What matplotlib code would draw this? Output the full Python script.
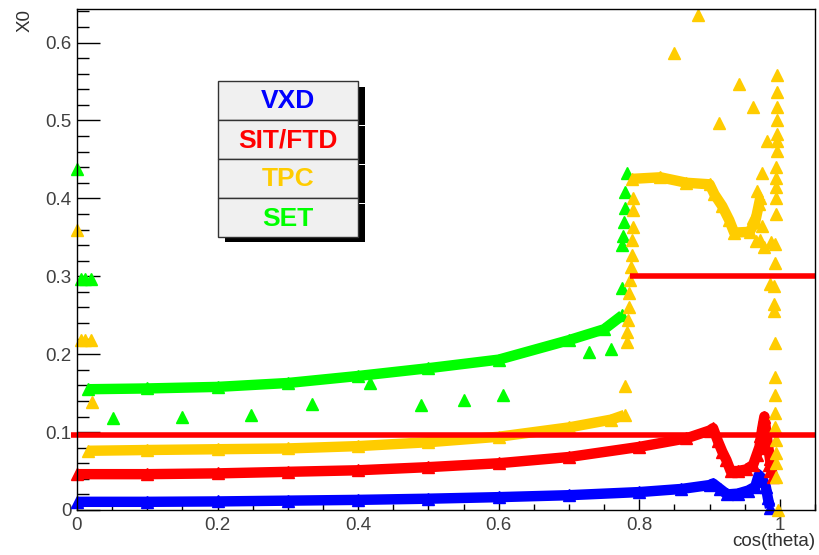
import matplotlib
matplotlib.use('Agg')
import matplotlib.pyplot as plt
from matplotlib.patches import Rectangle

plt.rcParams['font.family'] = ['Liberation Sans', 'DejaVu Sans']

# legend entries
names = ['VXD', 'SIT/FTD', 'TPC', 'SET']
colors = ['#0000ff', '#ff0000', '#ffcc00', '#00ff00']

# VXD band
vxd_x = [0.0, 0.1, 0.2, 0.3, 0.4, 0.5, 0.6, 0.7, 0.8, 0.86, 0.9, 0.905, 0.915,
         0.925, 0.94, 0.955, 0.965, 0.97, 0.975, 0.98, 0.983, 0.986]
vxd_y = [0.0105, 0.0105, 0.011, 0.012, 0.013, 0.0145, 0.0165, 0.019, 0.023, 0.027,
         0.032, 0.034, 0.027, 0.02, 0.021, 0.025, 0.03, 0.045, 0.04, 0.03, 0.015, 0.003]

# SIT/FTD band
sit_x = [0.0, 0.1, 0.2, 0.3, 0.4, 0.5, 0.6, 0.7, 0.8, 0.867, 0.9, 0.905, 0.912,
         0.918, 0.924, 0.93, 0.94, 0.952, 0.962, 0.971, 0.975, 0.978, 0.982, 0.986, 0.99]
sit_y = [0.046, 0.046, 0.047, 0.049, 0.051, 0.055, 0.06, 0.068, 0.081, 0.092, 0.102,
         0.105, 0.088, 0.075, 0.064, 0.05, 0.05, 0.052, 0.058, 0.081, 0.105, 0.12,
         0.09, 0.065, 0.042]
# extra SIT/FTD hits in the forward spike
sit_px = [0.968, 0.972, 0.976, 0.979, 0.981, 0.984, 0.986]
sit_py = [0.07, 0.095, 0.112, 0.1, 0.08, 0.058, 0.05]

# TPC bands
tpc_x = [0.016, 0.1, 0.2, 0.3, 0.4, 0.5, 0.6, 0.7, 0.76, 0.779]
tpc_y = [0.076, 0.077, 0.078, 0.079, 0.082, 0.087, 0.094, 0.106, 0.116, 0.122]
tpc_top_x = [0.79, 0.83, 0.867, 0.9, 0.907, 0.918, 0.928, 0.935, 0.957, 0.965, 0.972]
tpc_top_y = [0.425, 0.427, 0.42, 0.418, 0.405, 0.39, 0.372, 0.356, 0.357, 0.37, 0.40]

# TPC single points
tpc_px = [0.0, 0.005, 0.012, 0.02, 0.021,
          0.78, 0.782, 0.783, 0.784, 0.785, 0.786, 0.787, 0.788, 0.789, 0.79, 0.791, 0.791, 0.791,
          0.883, 0.85, 0.942, 0.962, 0.913, 0.981, 0.975, 0.97, 0.972, 0.978, 0.988,
          0.962, 0.968, 0.966, 0.974,
          0.996, 0.996, 0.996, 0.996, 0.996, 0.996, 0.996, 0.995, 0.995, 0.995, 0.995, 0.994,
          0.993, 0.993, 0.992, 0.986, 0.992, 0.992, 0.993, 0.993, 0.993, 0.993, 0.993, 0.994,
          0.994, 0.994, 0.994, 0.998]
tpc_py = [0.36, 0.218, 0.218, 0.218, 0.139,
          0.159, 0.215, 0.228, 0.244, 0.26, 0.278, 0.295, 0.312, 0.327, 0.346, 0.363, 0.385, 0.40,
          0.635, 0.586, 0.547, 0.517, 0.497, 0.474, 0.432, 0.393, 0.346, 0.337, 0.344,
          0.375, 0.41, 0.345, 0.365,
          0.558, 0.536, 0.517, 0.50, 0.483, 0.474, 0.461, 0.44, 0.426, 0.414, 0.40, 0.38,
          0.342, 0.317, 0.288, 0.29, 0.265, 0.256, 0.214, 0.171, 0.147, 0.124, 0.106, 0.09,
          0.073, 0.06, 0.042, 0.0]

# SET band
set_x = [0.016, 0.1, 0.2, 0.3, 0.4, 0.5, 0.6, 0.7, 0.75, 0.776]
set_y = [0.155, 0.156, 0.158, 0.163, 0.172, 0.182, 0.193, 0.218, 0.232, 0.25]

# SET single points
set_px = [0.0, 0.005, 0.012, 0.02, 0.051, 0.149, 0.247, 0.335, 0.417, 0.489, 0.55,
          0.606, 0.729, 0.76, 0.775, 0.776, 0.777, 0.778, 0.779, 0.78, 0.782]
set_py = [0.438, 0.297, 0.297, 0.297, 0.118, 0.119, 0.122, 0.136, 0.163, 0.135, 0.141,
          0.148, 0.203, 0.207, 0.285, 0.34, 0.352, 0.369, 0.387, 0.408, 0.432]

# red cut lines: (level, start)
cut_y = [0.096, 0.30]
cut_x0 = [-0.008, 0.787]

W, H = 819, 555
fig = plt.figure(figsize=(W / 100, H / 100), dpi=100)
ax = fig.add_axes([77 / W, 1 - 510 / H, (815 - 77) / W, (510 - 9) / H])
xmax = 1.05
ymax = 0.643
ax.set_xlim(0, xmax)
ax.set_ylim(0, ymax)

band = dict(lw=7.5, marker='^', ms=8.5, solid_capstyle='butt', solid_joinstyle='round', clip_on=False)
pts = dict(ls='none', marker='^', ms=8.5, clip_on=False)

ax.plot(vxd_x, vxd_y, color=colors[0], **band)
ax.plot(sit_x, sit_y, color=colors[1], **band)
ax.plot(sit_px, sit_py, color=colors[1], **pts)
ax.plot(set_x, set_y, color=colors[3], **band)
ax.plot(set_px, set_py, color=colors[3], **pts)
ax.plot(tpc_x, tpc_y, color=colors[2], **band)
ax.plot(tpc_top_x, tpc_top_y, color=colors[2], **band)
ax.plot(tpc_px, tpc_py, color=colors[2], **pts)

for yv, x0 in zip(cut_y, cut_x0):
    ax.plot([x0, xmax], [yv, yv], color='#ff0000', lw=4, solid_capstyle='butt', clip_on=False)

ax.set_xticks([0, 0.2, 0.4, 0.6, 0.8, 1.0])
ax.set_xticklabels(['0', '0.2', '0.4', '0.6', '0.8', '1'])
ax.set_xticks([i * 0.05 for i in range(22)], minor=True)
ax.set_yticks([0, 0.1, 0.2, 0.3, 0.4, 0.5, 0.6])
ax.set_yticklabels(['0', '0.1', '0.2', '0.3', '0.4', '0.5', '0.6'])
ax.set_yticks([i * 0.02 for i in range(33)], minor=True)
ax.tick_params(axis='both', which='both', direction='in', top=False, right=False,
               labelsize=13.5, labelcolor='#404040', width=1)
ax.tick_params(axis='x', which='major', length=8, pad=5)
ax.tick_params(axis='x', which='minor', length=4.3)
ax.tick_params(axis='y', which='major', length=16.5, pad=4)
ax.tick_params(axis='y', which='minor', length=8.6)
for s in ax.spines.values():
    s.set_linewidth(1)

fig.text(25 / W, 1 - 20 / H, 'X0', rotation=90, ha='center', va='center', fontsize=13.5, color='#303030')
fig.text(815 / W, 1 - 541 / H, 'cos(theta)', ha='right', va='center', fontsize=13.5, color='#303030')

# legend box: one pave per row with its own shadow
bx0, bx1, by0, rh = 218, 358, 81, 39
for i, (name, c) in enumerate(zip(names, colors)):
    top = by0 + i * rh
    fig.patches.append(Rectangle(((bx0 + 7) / W, 1 - (top + rh + 5) / H), (bx1 - bx0) / W, (rh - 1) / H,
                                 transform=fig.transFigure, facecolor='black', edgecolor='none', zorder=1))
for i, (name, c) in enumerate(zip(names, colors)):
    top = by0 + i * rh
    fig.patches.append(Rectangle((bx0 / W, 1 - (top + rh) / H), (bx1 - bx0) / W, rh / H,
                                 transform=fig.transFigure, facecolor='#f0f0f0', edgecolor='#333333',
                                 lw=1, zorder=2))
    fig.text((bx0 + bx1) / 2 / W, 1 - (top + rh / 2 + 1) / H, name, ha='center', va='center',
             fontsize=19, fontweight='bold', color=c, zorder=3)

fig.savefig('out.png', dpi=100)
